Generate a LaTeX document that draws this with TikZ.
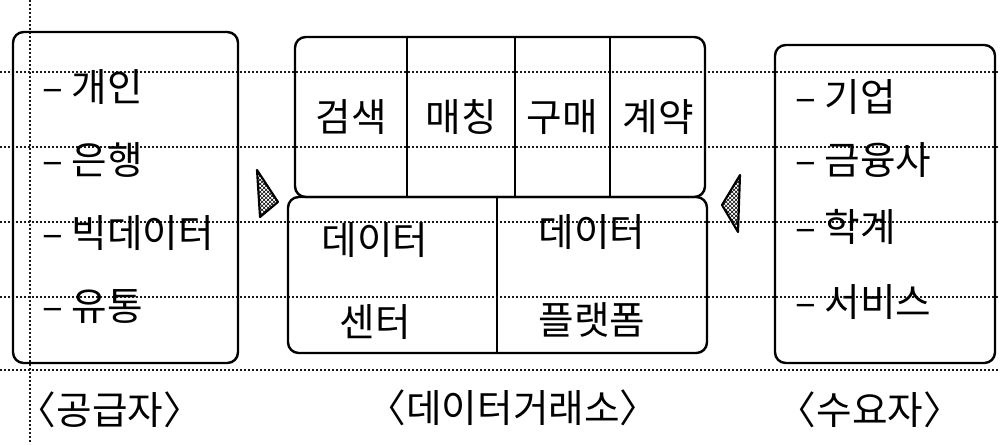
\documentclass[tikz,border=0pt]{standalone}
\usepackage{fontspec}
\setmainfont{Noto Sans CJK KR}
\usetikzlibrary{patterns}
\begin{document}
\begin{tikzpicture}[x=0.75pt,y=-0.75pt,
  box/.style={draw, line width=1.8pt, rounded corners=8pt, inner sep=0},
  lbl/.style={font=\fontsize{29}{32}\selectfont, inner sep=0},
  rulel/.style={line width=1.4pt, black!90, dash pattern=on 1.3pt off 1.7pt},
  div/.style={line width=1.8pt},
  tri/.style={draw, line width=1.6pt, line join=round, pattern=crosshatch, pattern color=black}]
\useasboundingbox (0,0) rectangle (1000,444);
\fill[white] (0,0) rectangle (1000,444);
% notebook rules
\foreach \yy in {72,147,222,297,370} \draw[rulel] (0,\yy) -- (1000,\yy);
\draw[rulel] (30,0) -- (30,444);
% left box
\node[box, minimum width=168.75pt, minimum height=248.25pt] (sup) at (125.5,197.5) {};
\node[lbl, anchor=west] (s1) at (42,87) {– 개인};
\node[lbl, anchor=west] (s2) at (42,160) {– 은행};
\node[lbl, anchor=west] (s3) at (42,233) {– 빅데이터};
\node[lbl, anchor=west] (s4) at (42,307) {– 유통};
% middle
\node[box, minimum width=307.5pt, minimum height=120pt] (top) at (500,117) {};
\node[box, minimum width=314.25pt, minimum height=117pt] (bot) at (497.5,275) {};
\coordinate (d1) at (407,0);
\coordinate (d2) at (515,0);
\coordinate (d3) at (610,0);
\coordinate (d4) at (497,0);
\draw[div] (top.north -| d1) -- (top.south -| d1);
\draw[div] (top.north -| d2) -- (top.south -| d2);
\draw[div] (top.north -| d3) -- (top.south -| d3);
\draw[div] (bot.north -| d4) -- (bot.south -| d4);
\node[lbl] (m1) at (351,117) {검색};
\node[lbl] (m2) at (461,117) {매칭};
\node[lbl] (m3) at (562,117) {구매};
\node[lbl] (m4) at (658,117) {계약};
\node[lbl, align=center, font=\fontsize{29}{62}\selectfont] (b1) at (375,281) {데이터\\센터};
\node[lbl, align=center, font=\fontsize{29}{66}\selectfont] (b2) at (592,276) {데이터\\플랫폼};
% right box
\node[box, minimum width=165pt, minimum height=238.5pt] (dem) at (885,204) {};
\node[lbl, anchor=west] (r1) at (795,97) {– 기업};
\node[lbl, anchor=west] (r2) at (795,160) {– 금융사};
\node[lbl, anchor=west] (r3) at (795,227) {– 학계};
\node[lbl, anchor=west] (r4) at (795,302) {– 서비스};
% arrows
\coordinate (la1) at (257,170);
\coordinate (la2) at (278,202);
\coordinate (la3) at (260,217);
\draw[tri] (la1) -- (la2) -- (la3) -- cycle;
\coordinate (ra1) at (740,175);
\coordinate (ra2) at (738,232);
\coordinate (ra3) at (722,205);
\draw[tri] (ra1) -- (ra2) -- (ra3) -- cycle;
% captions
\node[lbl] (c1) at (110,410) {〈공급자〉};
\node[lbl] (c2) at (513,408) {〈데이터거래소〉};
\node[lbl] (c3) at (870,410) {〈수요자〉};
\end{tikzpicture}
\end{document}
